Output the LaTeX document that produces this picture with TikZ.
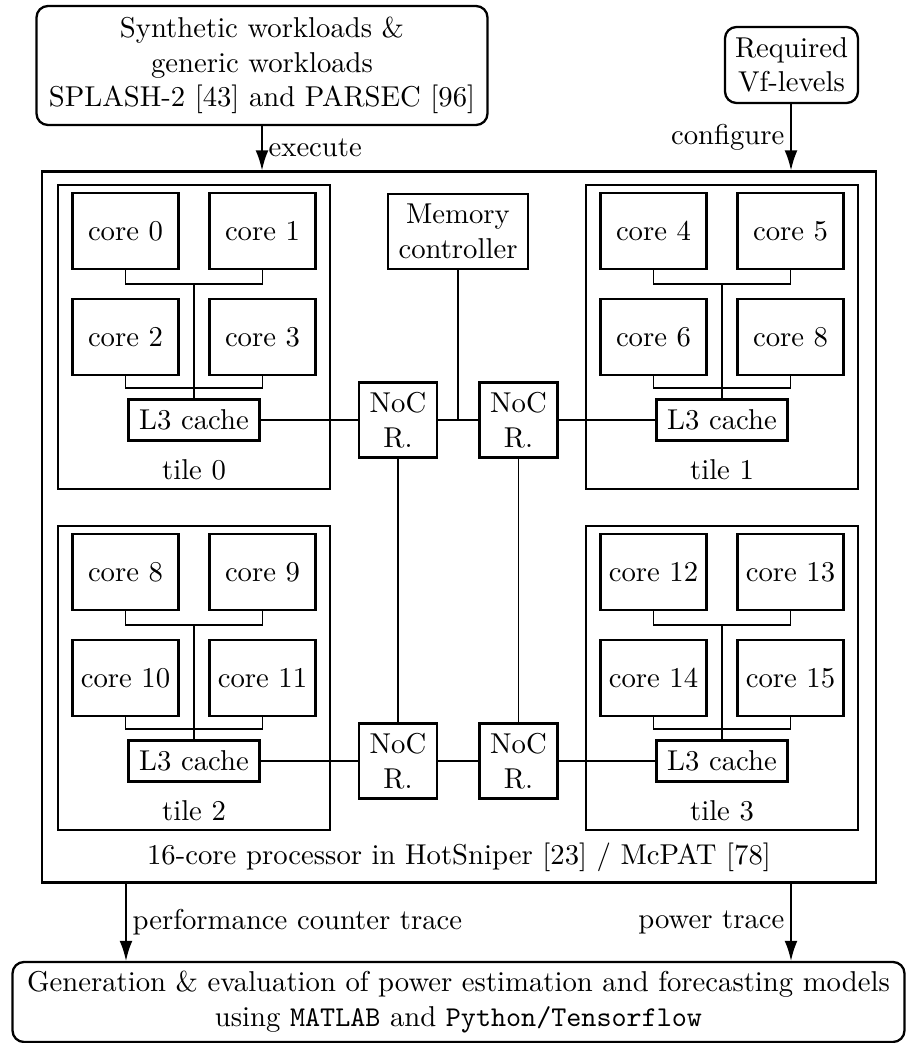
\documentclass[tikz,border=0pt]{standalone}
\usetikzlibrary{arrows.meta}
\newlength{\pxu}\setlength{\pxu}{0.3484pt}
\begin{document}
\begin{tikzpicture}[x=\pxu,y=-\pxu,
  box/.style={draw, line width=0.8pt, inner sep=1pt, align=center},
  rbox/.style={box, rounded corners=4pt},
  core/.style={box, minimum width=106\pxu, minimum height=76\pxu},
  cache/.style={box, minimum width=131\pxu, minimum height=41\pxu},
  tile/.style={box, minimum width=272\pxu, minimum height=304\pxu},
  noc/.style={box, minimum width=78\pxu, minimum height=75\pxu},
  wire/.style={draw, line width=0.45pt},
  arr/.style={draw, line width=0.6pt, -{Latex[length=7pt,width=4.5pt]}},
  lbl/.style={inner sep=2pt}]
\useasboundingbox (0,0) rectangle (906,1043);

% inputs
\node[rbox, minimum width=451\pxu, minimum height=119\pxu] (work) at (262,65.5)
  {Synthetic workloads \&\\ generic workloads\\ SPLASH-2 [43] and PARSEC [96]};
\node[rbox, minimum width=133\pxu, minimum height=76\pxu] (vf) at (791.5,65)
  {Required\\ Vf-levels};

% processor
\node[box, minimum width=834\pxu, minimum height=711\pxu] (proc) at (459,527) {};
\node[lbl] (proclbl) at (459,857) {16-core processor in HotSniper [23] / McPAT [78]};

% tiles
\foreach \t/\cx/\cy/\a/\b/\c/\d in {0/194/337/0/1/2/3, 1/722/337/4/5/6/8, 2/194/678/8/9/10/11, 3/722/678/12/13/14/15} {
  \node[tile] (tile\t) at (\cx,\cy) {};
  \node[lbl] (tl\t) at (\cx,\cy+133) {tile \t};
  \node[core] (core\t-a) at (\cx-68.5,\cy-106) {core \a};
  \node[core] (core\t-b) at (\cx+68.5,\cy-106) {core \b};
  \node[core] (core\t-c) at (\cx-68.5,\cy) {core \c};
  \node[core] (core\t-d) at (\cx+68.5,\cy) {core \d};
  \node[cache] (l3\t) at (\cx,\cy+83) {L3 cache};
  \coordinate (bA\t) at (\cx,\cy-53);
  \coordinate (bB\t) at (\cx,\cy+51);
  \draw[wire] (core\t-a.south) |- (bA\t) -| (core\t-b.south);
  \draw[wire] (core\t-c.south) |- (bB\t) -| (core\t-d.south);
  \draw[wire] (bA\t) -- (l3\t.north);
}

% memory controller and NoC routers
\node[box, minimum width=140\pxu, minimum height=75\pxu] (mem) at (458,231.5) {Memory\\ controller};
\node[noc] (n0) at (398,420) {NoC\\ R.};
\node[noc] (n1) at (518.5,420) {NoC\\ R.};
\node[noc] (n2) at (398,761) {NoC\\ R.};
\node[noc] (n3) at (518.5,761) {NoC\\ R.};

\draw[wire] (l30.east) -- (n0.west);
\draw[wire] (n0.east) -- (n1.west);
\draw[wire] (n1.east) -- (l31.west);
\draw[wire] (mem.south) -- (mem.south |- n0.east);
\draw[wire] (n0.south) -- (n2.north);
\draw[wire] (n1.south) -- (n3.north);
\draw[wire] (l32.east) -- (n2.west);
\draw[wire] (n2.east) -- (n3.west);
\draw[wire] (n3.east) -- (l33.west);

% output box
\node[rbox, minimum width=892\pxu, minimum height=80\pxu] (eval) at (458.5,1002)
  {Generation \& evaluation of power estimation and forecasting models\\
   using \texttt{MATLAB} and \texttt{Python/Tensorflow}};

% arrows
\coordinate (pc) at (126,0);
\coordinate (pw) at (791,0);
\draw[arr] (work.south) -- node[right, lbl] {execute} (proc.north -| work.south);
\draw[arr] (vf.south -| pw) -- node[left, lbl] {configure} (proc.north -| pw);
\draw[arr] (proc.south -| pc) -- node[right, lbl] {performance counter trace} (eval.north -| pc);
\draw[arr] (proc.south -| pw) -- node[left, lbl] {power trace} (eval.north -| pw);
\end{tikzpicture}
\end{document}
